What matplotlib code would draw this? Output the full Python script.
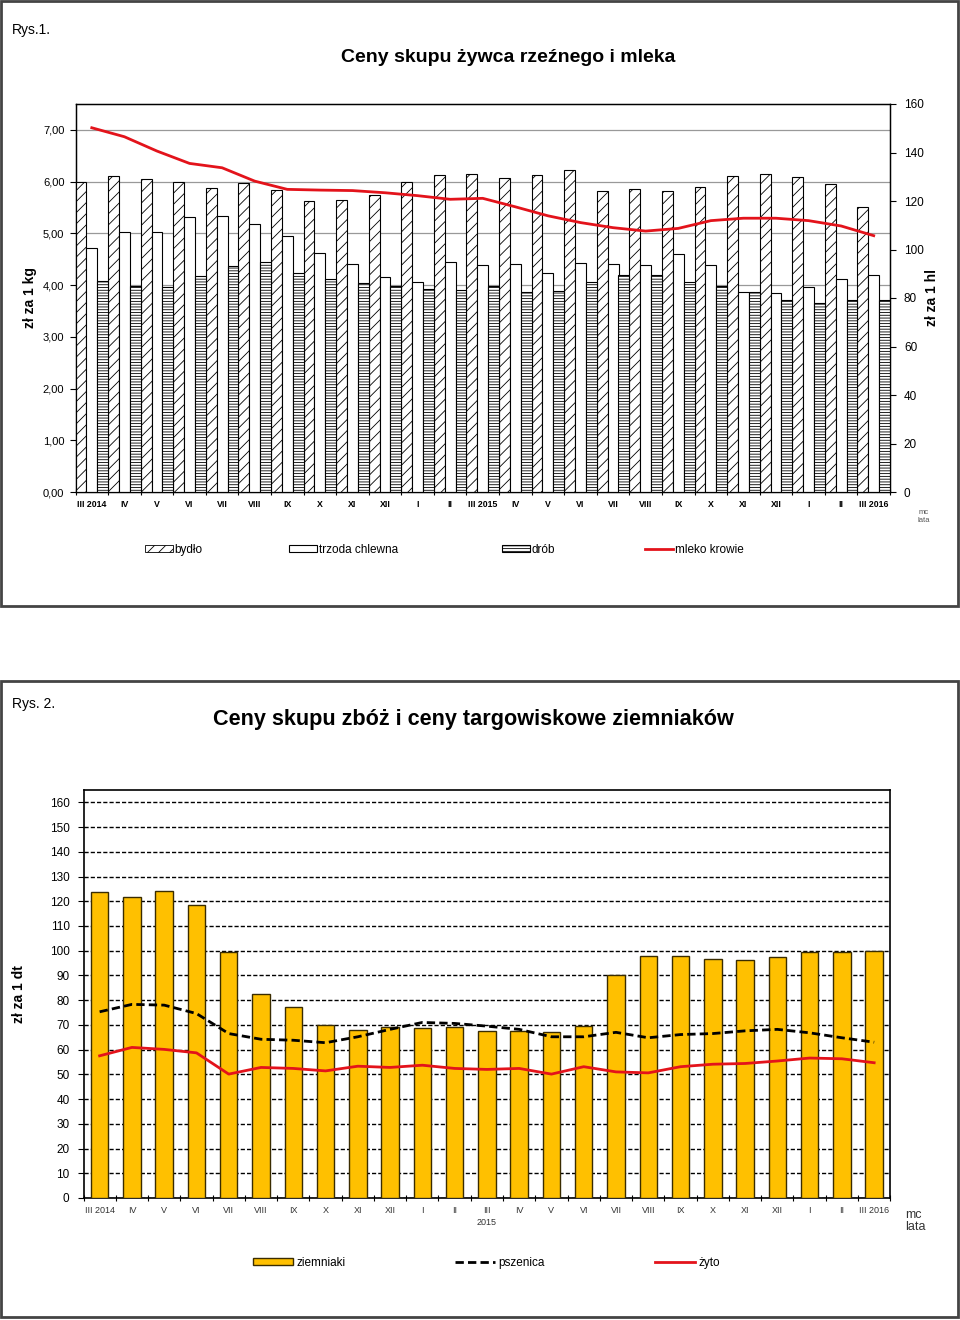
import numpy as np
import matplotlib.pyplot as plt
from matplotlib.patches import Rectangle, Patch
from matplotlib.lines import Line2D
from matplotlib.ticker import FuncFormatter

plt.rcParams['font.family'] = ['Liberation Sans', 'DejaVu Sans']
plt.rcParams['hatch.linewidth'] = 0.6

months = ["III 2014", "IV", "V", "VI", "VII", "VIII", "IX", "X", "XI", "XII", "I", "II",
          "III 2015", "IV", "V", "VI", "VII", "VIII", "IX", "X", "XI", "XII", "I", "II", "III 2016"]
months_b = months.copy()
months_b[12] = "III\n2015"

# Rys. 1 - zł za 1 kg (bars), zł za 1 hl (milk)
bydlo = [6.00, 6.11, 6.05, 5.99, 5.87, 5.98, 5.84, 5.62, 5.64, 5.74, 5.99, 6.13, 6.15,
         6.07, 6.13, 6.22, 5.82, 5.86, 5.82, 5.90, 6.11, 6.15, 6.09, 5.96, 5.50]
trzoda = [4.72, 5.02, 5.02, 5.31, 5.33, 5.18, 4.95, 4.62, 4.40, 4.15, 4.05, 4.44, 4.38,
          4.40, 4.24, 4.42, 4.40, 4.38, 4.61, 4.38, 3.87, 3.84, 3.96, 4.11, 4.20]
drob = [4.07, 3.99, 3.97, 4.18, 4.37, 4.45, 4.24, 4.11, 4.04, 3.99, 3.93, 3.90, 3.99,
        3.86, 3.88, 4.06, 4.20, 4.20, 4.06, 3.99, 3.86, 3.71, 3.65, 3.71, 3.71]
mleko = [150.2, 146.5, 140.6, 135.5, 133.7, 128.2, 124.8, 124.5, 124.3, 123.4, 122.2, 120.7, 121.1,
         117.6, 113.9, 111.1, 109.0, 107.6, 108.7, 111.9, 112.9, 112.9, 111.9, 109.7, 105.7]

# Rys. 2 - zł za 1 dt
ziemniaki = [123.6, 121.7, 124.2, 118.5, 99.3, 82.7, 77.2, 69.8, 68.0, 69.1, 68.6, 69.1, 67.7,
             67.6, 67.3, 69.5, 90.2, 97.8, 97.8, 96.8, 96.3, 97.3, 99.3, 99.3, 99.8]
pszenica = [75.3, 78.3, 78.0, 74.6, 66.5, 64.2, 63.8, 62.8, 65.2, 68.2, 71.0, 70.6, 69.5,
            68.2, 65.2, 65.2, 67.0, 64.8, 66.1, 66.5, 67.6, 68.2, 66.8, 64.8, 63.0]
zyto = [57.5, 60.9, 60.1, 58.7, 50.1, 52.8, 52.4, 51.4, 53.3, 52.8, 53.7, 52.4, 52.0,
        52.4, 50.1, 53.1, 51.0, 50.6, 53.1, 54.1, 54.4, 55.4, 56.6, 56.3, 54.7]

RED = '#e3131b'
W, H = 960, 1320
fig = plt.figure(figsize=(9.6, 13.2), dpi=100)


def fx(px):
    return px / W


def fy(py):
    return 1 - py / H


# panel frames
for y0, y1 in [(1, 606), (681, 1317)]:
    fig.patches.append(Rectangle((fx(1), fy(y1)), fx(957), (y1 - y0) / H, transform=fig.transFigure,
                                 fill=False, edgecolor='#444444', linewidth=2))

x = np.arange(len(months))

# ---------------- Rys. 1 ----------------
ax1 = fig.add_axes([fx(75.5), fy(492), fx(890 - 75.5), (492 - 104) / H])
bw = 1 / 3
ax1.bar(x - bw, bydlo, bw, facecolor='white', edgecolor='black', hatch='///', linewidth=0.8, zorder=3)
ax1.bar(x, trzoda, bw, facecolor='white', edgecolor='black', linewidth=0.8, zorder=3)
ax1.bar(x + bw, drob, bw, facecolor='white', edgecolor='black', hatch='------', linewidth=0.8, zorder=3)
ax1.set_xlim(-0.5, len(months) - 0.5)
ax1.set_ylim(0, 7.5)
ax1.set_yticks(np.arange(0, 8, 1))
ax1.yaxis.set_major_formatter(FuncFormatter(lambda v, p: f"{v:.2f}".replace('.', ',')))
ax1.yaxis.grid(True, color='#999999', linewidth=0.9, zorder=0)
ax1.set_axisbelow(True)
ax1.tick_params(axis='y', labelsize=8, length=4, width=0.8, pad=4)
ax1.set_xticks(x)
ax1.set_xticklabels(months, fontsize=6.3, fontweight='bold')
ax1.set_xticks(np.arange(-0.5, len(months), 1), minor=True)
ax1.tick_params(axis='x', which='major', length=0, pad=6)
ax1.tick_params(axis='x', which='minor', length=4, direction='inout', width=0.8)
for s in ax1.spines.values():
    s.set_linewidth(1)
ax1.set_ylabel("zł za 1 kg", fontsize=10, fontweight='bold')
ax1.yaxis.set_label_coords((37 - 75.5) / 814.5, 0.5)

ax1r = ax1.twinx()
ax1r.plot(x, mleko, color=RED, linewidth=2, zorder=5)
ax1r.set_ylim(0, 160)
ax1r.set_yticks(np.arange(0, 161, 20))
ax1r.tick_params(axis='y', labelsize=8.5, length=4, width=0.8, pad=6)
ax1r.set_ylabel("zł za 1 hl", fontsize=10, fontweight='bold', rotation=90)
ax1r.yaxis.set_label_coords((925 - 75.5) / 814.5, 0.5)
fig.text(fx(924), fy(517), "mc\nlata", fontsize=5.5, color='#555555', ha='center', va='center',
         linespacing=1.2)

fig.text(fx(12), fy(30), "Rys.1.", fontsize=10, va='center')
fig.text(fx(508), fy(57), "Ceny skupu żywca rzeźnego i mleka", fontsize=14, fontweight='bold',
         ha='center', va='center')

leg_items1 = [
    (Patch(facecolor='white', edgecolor='black', hatch='///', linewidth=0.6), "bydło", 145),
    (Patch(facecolor='white', edgecolor='black', linewidth=0.8), "trzoda chlewna", 289),
    (Patch(facecolor='white', edgecolor='black', hatch='------', linewidth=0.8), "drób", 502),
    (Line2D([], [], color=RED, linewidth=2), "mleko krowie", 645),
]
for h, lab, px in leg_items1:
    fig.legend(handles=[h], labels=[lab], loc='center left', bbox_to_anchor=(fx(px), fy(550)),
               frameon=False, fontsize=8.5, handlelength=2.4, handleheight=0.55,
               handletextpad=0.1, borderpad=0, borderaxespad=0)

# ---------------- Rys. 2 ----------------
ax2 = fig.add_axes([fx(83.5), fy(1198), fx(890.3 - 83.5), (1198 - 790) / H])
ax2.bar(x, ziemniaki, 0.54, color='#ffc000', edgecolor='#3a2c00', linewidth=1, zorder=3)
ax2.plot(x, pszenica, color='black', linewidth=2, linestyle=(0, (3, 1.5)), zorder=4)
ax2.plot(x, zyto, color=RED, linewidth=2, zorder=4)
ax2.set_xlim(-0.5, len(months) - 0.5)
ax2.set_ylim(0, 165)
ax2.set_yticks(np.arange(0, 161, 10))
ax2.yaxis.grid(True, color='black', linewidth=1, linestyle=(0, (3, 1.5)), zorder=0)
ax2.set_axisbelow(True)
ax2.tick_params(axis='y', labelsize=8.5, length=4, width=0.8, pad=6)
ax2.set_xticks(x)
ax2.set_xticklabels(months_b, fontsize=6.5, color='#333333', linespacing=1.4)
ax2.set_xticks(np.arange(-0.5, len(months), 1), minor=True)
ax2.tick_params(axis='x', which='major', length=0, pad=6)
ax2.tick_params(axis='x', which='minor', length=5, direction='inout', width=0.8)
for s in ax2.spines.values():
    s.set_linewidth(1.2)
ax2.set_ylabel("zł za 1 dt", fontsize=10, fontweight='bold')
ax2.yaxis.set_label_coords((26 - 83.5) / 806.8, 0.5)
fig.text(fx(905), fy(1221), "mc\nlata", fontsize=9, color='#333333', ha='left', va='center',
         linespacing=1.0)

fig.text(fx(12), fy(704), "Rys. 2.", fontsize=10, va='center')
fig.text(fx(473), fy(720), "Ceny skupu zbóż i ceny targowiskowe ziemniaków", fontsize=15.6,
         fontweight='bold', ha='center', va='center')

leg_items2 = [
    (Patch(facecolor='#ffc000', edgecolor='#3a2c00', linewidth=1), "ziemniaki", 253),
    (Line2D([], [], color='black', linewidth=2, linestyle=(0, (3, 1.5))), "pszenica", 455),
    (Line2D([], [], color=RED, linewidth=2), "żyto", 655),
]
for h, lab, px in leg_items2:
    fig.legend(handles=[h], labels=[lab], loc='center left', bbox_to_anchor=(fx(px), fy(1263)),
               frameon=False, fontsize=8.5, handlelength=3.4, handleheight=0.5,
               handletextpad=0.3, borderpad=0, borderaxespad=0)

fig.savefig("out.png", dpi=100)
